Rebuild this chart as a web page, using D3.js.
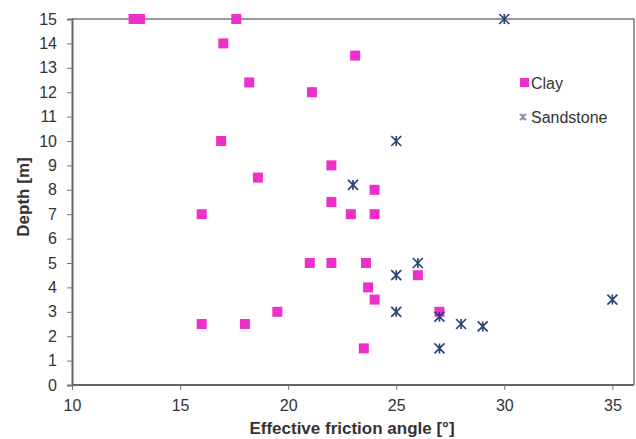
<!DOCTYPE html>
<html>
<head>
<meta charset="utf-8">
<script src="https://cdn.jsdelivr.net/npm/d3@7"></script>
<style>
  body { margin: 0; background: #fff; }
  text { font-family: "Liberation Sans", Arial, sans-serif; fill: #333; }
</style>
</head>
<body>
<script>
// Data
var clayAngle = [12.85, 13.15, 17.6, 17.0, 18.2, 21.1, 23.1, 16.9, 22.0, 18.6, 24.0, 22.0, 16.0, 22.9, 24.0,
                 21.0, 22.0, 23.6, 26.0, 23.7, 24.0, 27.0, 19.5, 16.0, 18.0, 23.5];
var clayDepth = [15, 15, 15, 14, 12.4, 12, 13.5, 10, 9, 8.5, 8, 7.5, 7, 7, 7,
                 5, 5, 5, 4.5, 4, 3.5, 3, 3, 2.5, 2.5, 1.5];
var sandAngle = [30, 25, 23, 26, 25, 25, 27, 28, 29, 27, 35];
var sandDepth = [15, 10, 8.2, 5, 4.5, 3, 2.8, 2.5, 2.4, 1.5, 3.5];
var xTicks = [10, 15, 20, 25, 30, 35];
var yTicks = d3.range(0, 16);
var seriesNames = ["Clay", "Sandstone"];

var width = 636, height = 439;
var padLeft = 72, padRight = 634, padTop = 19, padBottom = 385;
var clayColor = "#ef2fc9", sandColor = "#2a4574";

var svg = d3.select("body").append("svg")
  .attr("width", width)
  .attr("height", height);

var x = d3.scaleLinear().domain([10, 36]).range([padLeft, padRight]);
var y = d3.scaleLinear().domain([0, 15]).range([padBottom, padTop]);

// Plot area border (top and right)
svg.append("path")
  .attr("d", "M" + padLeft + "," + padTop + "H" + padRight + "V" + padBottom)
  .attr("fill", "none")
  .attr("stroke", "#777")
  .attr("stroke-width", 1.5);

// Axes
var xAxis = svg.append("g")
  .attr("transform", "translate(0," + padBottom + ")")
  .call(d3.axisBottom(x).tickValues(xTicks).tickSize(5).tickPadding(10));
xAxis.select(".domain").attr("d", "M" + padLeft + ",0H" + padRight);

var yAxis = svg.append("g")
  .attr("transform", "translate(" + padLeft + ",0)")
  .call(d3.axisLeft(y).tickValues(yTicks).tickSize(5).tickPadding(10));

svg.selectAll(".domain").attr("stroke", "#666").attr("stroke-width", 2);
svg.selectAll(".tick line").attr("stroke", "#777");
svg.selectAll(".tick text")
  .style("font-family", "'Liberation Sans', Arial, sans-serif")
  .style("font-size", "16px")
  .attr("fill", "#333");

// Axis titles
svg.append("text")
  .attr("x", 352)
  .attr("y", 434)
  .attr("text-anchor", "middle")
  .style("font-size", "17px")
  .style("font-weight", "bold")
  .text("Effective friction angle [°]");

svg.append("text")
  .attr("transform", "translate(29,197) rotate(-90)")
  .attr("text-anchor", "middle")
  .style("font-size", "17px")
  .style("font-weight", "bold")
  .text("Depth [m]");

// Marker helper: Excel-style star (x with a vertical bar)
function star(g, cx, cy, r, col) {
  g.append("path")
    .attr("d", "M" + (cx - r) + "," + (cy - r) + "L" + (cx + r) + "," + (cy + r) +
               "M" + (cx - r) + "," + (cy + r) + "L" + (cx + r) + "," + (cy - r) +
               "M" + cx + "," + (cy - r) + "V" + (cy + r))
    .attr("stroke", col || sandColor)
    .attr("stroke-width", 1.7)
    .attr("fill", "none");
}

// Clay points
var clay = clayAngle.map(function(a, i) { return {a: a, d: clayDepth[i]}; });
svg.append("g").selectAll("rect").data(clay).enter().append("rect")
  .attr("x", function(d) { return x(d.a) - 5; })
  .attr("y", function(d) { return y(d.d) - 5; })
  .attr("width", 10)
  .attr("height", 10)
  .attr("fill", clayColor);

// Sandstone points
var sandG = svg.append("g");
sandAngle.forEach(function(a, i) { star(sandG, x(a), y(sandDepth[i]), 5); });

// Legend
var lg = svg.append("g");
lg.append("rect").attr("x", 520).attr("y", 78).attr("width", 9).attr("height", 9).attr("fill", clayColor);
lg.append("text").attr("x", 531).attr("y", 89).style("font-size", "16px").text(seriesNames[0]);
star(lg, 523, 117, 3.2, "#8a97b0");
lg.append("text").attr("x", 531).attr("y", 123).style("font-size", "16px").text(seriesNames[1]);
</script>
</body>
</html>
